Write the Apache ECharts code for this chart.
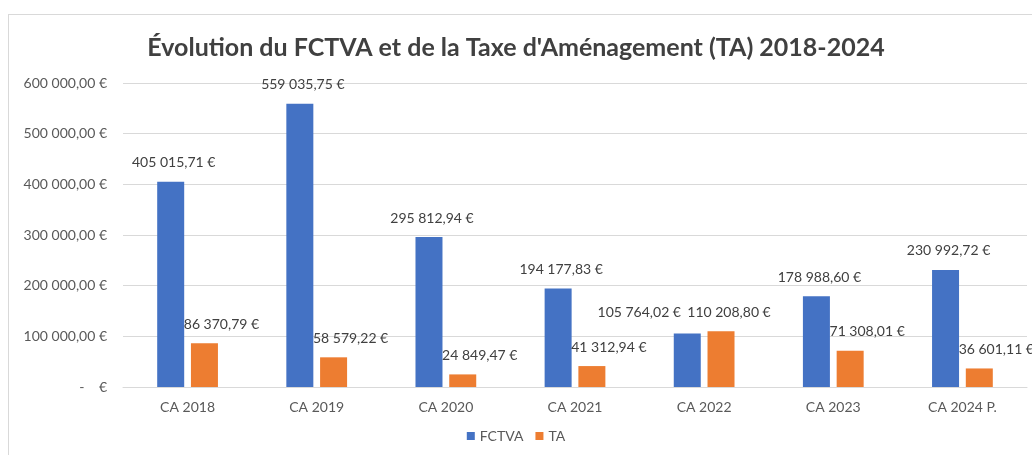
<!DOCTYPE html>
<html>
<head>
<meta charset="utf-8">
<script src="https://cdn.jsdelivr.net/npm/echarts@6/dist/echarts.min.js"></script>
<style>
  html, body { margin: 0; padding: 0; background: #fff; }
  #frame { position: absolute; left: 8px; top: 14px; width: 1040px; height: 460px; border: 1px solid #d9d9d9; box-sizing: border-box; }
  #chart { position: absolute; left: 0; top: 0; width: 1032px; height: 455px; }
</style>
</head>
<body>
<div id="frame"></div>
<div id="chart"></div>
<script>
var categories = ['CA 2018', 'CA 2019', 'CA 2020', 'CA 2021', 'CA 2022', 'CA 2023', 'CA 2024 P.'];
var fctva = [405015.71, 559035.75, 295812.94, 194177.83, 105764.02, 178988.60, 230992.72];
var ta = [86370.79, 58579.22, 24849.47, 41312.94, 110208.80, 71308.01, 36601.11];

function euro(v) {
    var parts = v.toFixed(2).split('.');
    var intPart = parts[0].replace(/\B(?=(\d{3})+(?!\d))/g, ' ');
    return intPart + ',' + parts[1] + ' €';
}

var myChart = echarts.init(document.getElementById('chart'));
var font = 'Lato';
var labelStyle = {
    show: true,
    position: 'top',
    distance: 12,
    color: '#404040',
    fontSize: 14,
    fontFamily: font,
    formatter: function (p) { return euro(p.value); }
};
// Excel pushes some labels sideways so they don't collide
var fctvaData = fctva.map(function (v, i) {
    return i === 4 ? { value: v, label: { offset: [-48, -2] } } : { value: v, label: { offset: [3, 0] } };
});
var taData = ta.map(function (v, i) {
    return i === 4 ? { value: v, label: { offset: [8, 0] } } : { value: v, label: { offset: [17, 0] } };
});
var option = {
    animation: false,
    title: {
        text: "Évolution du FCTVA et de la Taxe d'Aménagement (TA) 2018-2024",
        left: 'center',
        top: 30,
        textStyle: { fontFamily: font, fontSize: 25, fontWeight: 'bold', color: '#404040' }
    },
    legend: {
        bottom: 7,
        left: 'center',
        itemWidth: 8,
        itemHeight: 8,
        itemGap: 12,
        icon: 'rect',
        textStyle: { fontFamily: font, fontSize: 14, color: '#595959' },
        data: ['FCTVA', 'TA']
    },
    grid: { left: 123, right: 5, top: 83, bottom: 68 },
    xAxis: {
        type: 'category',
        data: categories,
        axisLine: { lineStyle: { color: '#d9d9d9' } },
        axisTick: { show: false },
        axisLabel: { color: '#595959', fontFamily: font, fontSize: 14, margin: 13 }
    },
    yAxis: {
        type: 'value',
        min: 0,
        max: 600000,
        interval: 100000,
        splitLine: { lineStyle: { color: '#d9d9d9' } },
        axisLabel: {
            color: '#595959', fontFamily: font, fontSize: 14, margin: 16,
            formatter: function (v) { return v === 0 ? '-    €' : euro(v); }
        }
    },
    series: [
        { name: 'FCTVA', type: 'bar', data: fctvaData, barWidth: 27, barGap: '25%', itemStyle: { color: '#4472c4' }, label: labelStyle },
        { name: 'TA', type: 'bar', data: taData, barWidth: 27, itemStyle: { color: '#ed7d31' }, label: labelStyle }
    ]
};
myChart.setOption(option);
</script>
</body>
</html>
